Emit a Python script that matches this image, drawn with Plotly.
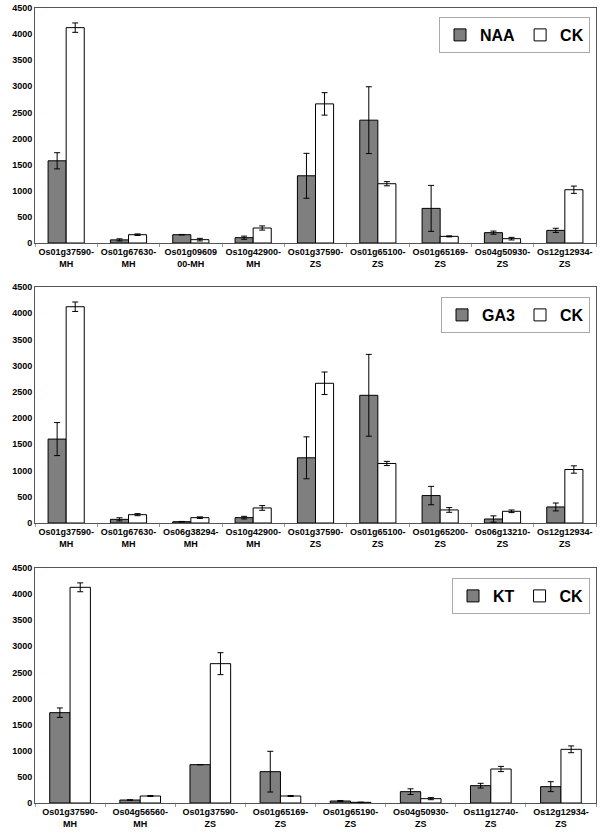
import plotly.graph_objects as go

# Panel 1: NAA vs CK
genes1 = ["Os01g37590-<br>MH", "Os01g67630-<br>MH", "Os01g09609<br>00-MH", "Os10g42900-<br>MH",
          "Os01g37590-<br>ZS", "Os01g65100-<br>ZS", "Os01g65169-<br>ZS", "Os04g50930-<br>ZS",
          "Os12g12934-<br>ZS"]
naa = [1574, 60, 159, 102, 1287, 2352, 663, 198, 242]
naa_err = [155, 20, 5, 30, 430, 640, 440, 30, 40]
ck1 = [4124, 159, 64, 287, 2664, 1135, 127, 83, 1020]
ck1_err = [90, 15, 25, 40, 215, 40, 10, 25, 70]

# Panel 2: GA3 vs CK
genes2 = ["Os01g37590-<br>MH", "Os01g67630-<br>MH", "Os06g38294-<br>MH", "Os10g42900-<br>MH",
          "Os01g37590-<br>ZS", "Os01g65100-<br>ZS", "Os01g65200-<br>ZS", "Os06g13210-<br>ZS",
          "Os12g12934-<br>ZS"]
ga3 = [1600, 70, 25, 102, 1243, 2435, 523, 76, 306]
ga3_err = [315, 30, 5, 25, 400, 780, 175, 60, 75]
ck2 = [4124, 159, 102, 287, 2664, 1135, 249, 223, 1020]
ck2_err = [90, 20, 15, 45, 215, 40, 45, 25, 70]

# Panel 3: KT vs CK
genes3 = ["Os01g37590-<br>MH", "Os04g56560-<br>MH", "Os01g37590-<br>ZS", "Os01g65169-<br>ZS",
          "Os01g65190-<br>ZS", "Os04g50930-<br>ZS", "Os11g12740-<br>ZS", "Os12g12934-<br>ZS"]
kt = [1730, 57, 734, 600, 38, 217, 332, 313]
kt_err = [90, 5, None, 390, 10, 55, 45, 95]
ck3 = [4130, 134, 2668, 134, 13, 83, 651, 1028]
ck3_err = [85, 10, 210, 10, 3, 20, 50, 65]

panels = [
    ("NAA", genes1, naa, naa_err, ck1, ck1_err),
    ("GA3", genes2, ga3, ga3_err, ck2, ck2_err),
    ("KT", genes3, kt, kt_err, ck3, ck3_err),
]

W, H = 600, 835
# pixel extents of each plot area (top, bottom)
areas = [(8, 243), (287, 523), (568, 803)]
legend_tops = [17, 297, 578]

GRAY = "#7f7f7f"
FAM = "Liberation Sans, Arial"

fig = go.Figure()
for i, (trt, genes, tv, te, cv, ce) in enumerate(panels):
    n = "" if i == 0 else str(i + 1)
    leg = "legend" + n
    fig.add_trace(go.Bar(
        x=genes, y=tv, name="<b>" + trt + "</b>",
        marker=dict(color=GRAY, line=dict(color="black", width=1)),
        error_y=dict(type="data", array=te, color="black", thickness=1, width=3),
        xaxis="x" + n, yaxis="y" + n, legend=leg,
    ))
    fig.add_trace(go.Bar(
        x=genes, y=cv, name="<b>CK</b>",
        marker=dict(color="white", line=dict(color="black", width=1)),
        error_y=dict(type="data", array=ce, color="black", thickness=1, width=3),
        xaxis="x" + n, yaxis="y" + n, legend=leg,
    ))
    top, bot = areas[i]
    fig.layout["xaxis" + n] = dict(
        domain=[35 / W, 596 / W], anchor="y" + n, automargin=False,
        showline=True, linecolor="#555555", mirror=True, linewidth=1,
        ticks="outside", tickson="boundaries", ticklen=3, tickcolor="#999999",
        tickfont=dict(family=FAM, size=9, color="black"),
        tickprefix="<b>", ticksuffix="</b>", tickangle=0,
    )
    fig.layout["yaxis" + n] = dict(
        domain=[1 - bot / H, 1 - top / H], anchor="x" + n, automargin=False,
        range=[0, 4500], dtick=500, showgrid=False, zeroline=False,
        showline=True, linecolor="#555555", mirror=True, linewidth=1,
        ticks="", tickfont=dict(family=FAM, size=9, color="black"),
        tickprefix="<b>", ticksuffix="</b>",
    )
    fig.layout[leg] = dict(
        orientation="h", x=590 / W, xanchor="right",
        y=1 - legend_tops[i] / H, yanchor="top",
        bgcolor="white", bordercolor="#aaaaaa", borderwidth=1,
        font=dict(family=FAM, size=16, color="black"),
        itemwidth=30, tracegroupgap=0,
    )

fig.update_layout(
    width=W, height=H, margin=dict(l=0, r=0, t=0, b=0),
    paper_bgcolor="white", plot_bgcolor="white",
    barmode="group", bargap=0.42, bargroupgap=0,
    font=dict(family=FAM, size=9, color="black"), showlegend=True,
)
fig.write_html("out.html", config={"displayModeBar": False},
               post_script="document.body.style.margin='0';document.body.style.overflow='hidden';")
